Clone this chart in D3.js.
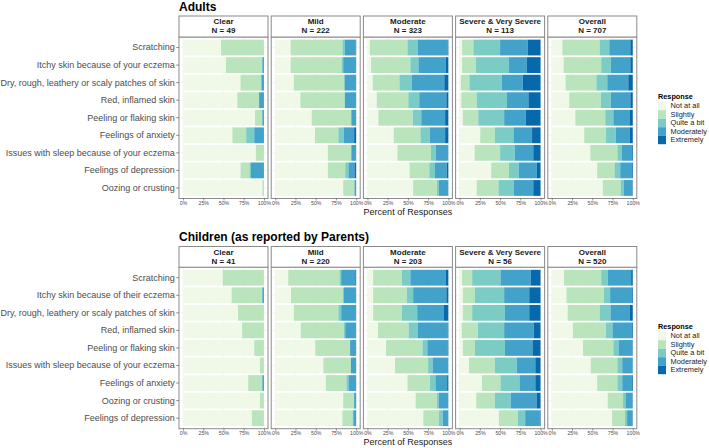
<!DOCTYPE html>
<html><head><meta charset="utf-8">
<script src="https://cdn.jsdelivr.net/npm/d3@7"></script>
<style>
body{margin:0;background:#fff;}
svg{display:block;font-family:"Liberation Sans",Arial,Helvetica,sans-serif;}
</style></head>
<body><svg id="c" width="709" height="448"></svg>
<script>
const responses = ["Not at all","Slightly","Quite a bit","Moderately","Extremely"];
const colors = ["#f0f9e8","#bae4bc","#7bccc4","#43a2ca","#0868ac"];
const severities = ["Clear","Mild","Moderate","Severe & Very Severe","Overall"];
const xTicks = [0,0.25,0.5,0.75,1];

const adultN = [49,222,323,113,707];
const childN = [41,220,203,56,520];

const adultItems = ["Scratching","Itchy skin because of your eczema","Dry, rough, leathery or scaly patches of skin","Red, inflamed skin","Peeling or flaking skin","Feelings of anxiety","Issues with sleep because of your eczema","Feelings of depression","Oozing or crusting"];
const childItems = ["Scratching","Itchy skin because of their eczema","Dry, rough, leathery or scaly patches of skin","Red, inflamed skin","Peeling or flaking skin","Issues with sleep because of your eczema","Feelings of anxiety","Oozing or crusting","Feelings of depression"];

// percentages per item: [Not at all, Slightly, Quite a bit, Moderately, Extremely]
const adultClear = [[47,53,0,0,0],[53,45,0,2,0],[71,25,1,3,0],[67,27,0,6,0],[89,9,0,2,0],[61,17,10,12,0],[90,10,0,0,0],[71,11,2,16,0],[98,2,0,0,0]];
const adultMild = [[19,64,3,13.5,0.5],[19,63,2,16,0],[23,62,1,14,0],[31,55,0,14,0],[45,49,0,6,0],[49,29,6.5,13,2.5],[65,29,0,6,0],[65,21.5,4,7.5,2],[84,14,0,2,0]];
const adultModerate = [[3,46.5,12.5,37,1],[4.5,48.5,10,34,3],[6.5,33,15.5,40,5],[11.5,39,13.5,33.5,2.5],[13.5,42.5,10.5,29.5,4],[32.5,33,11.5,19,4],[37,41.5,6,15.5,0],[52,24.5,7,14.5,2],[56.5,29.5,2,12,0]];
const adultSevere = [[3,14,33,34,16],[3,17,40.5,22.5,17],[1.5,10.5,40,26,22],[2,19,37.5,26.5,15],[4,19,32,26.5,18.5],[25.5,18,23,23,10.5],[18.5,31.5,18,23,9],[39,22,12,22.5,4.5],[21,27,19,24,9]];
const adultOverall = [[13,46,12,26,3],[14.5,46.5,12,24,3],[17,38,13.5,26,5.5],[21.5,39,12.5,24,3],[29,37,10,20,4],[40,27,12,17.5,3.5],[47.5,33.5,5.5,12.5,1],[56,21.5,7,14.5,1],[63,22,4,10.5,0.5]];

const childClear = [[49,51,0,0,0],[60,38,0,2,0],[68,32,0,0,0],[73,27,0,0,0],[88,12,0,0,0],[95,5,0,0,0],[80.5,17.5,0,2,0],[95,5,0,0,0],[85,15,0,0,0]];
const childMild = [[16,63.5,2,17.5,1],[19.5,64,1.5,15,0],[23,55,3.5,18.5,0],[31.5,53.5,1.5,13.5,0],[49.5,43,0,7.5,0],[59.5,34,0,6.5,0],[62.5,25.5,2.5,9.5,0],[84,13.5,0,2.5,0],[83,12.5,1,3.5,0]];
const childModerate = [[7,35.5,10.5,44,3],[7,41.5,8,41,2.5],[7,35.5,19,32.5,6],[13,38,11.5,36.5,1],[23,45,6,25,1],[34,41,5.5,19.5,0],[49.5,27.5,7,14.5,1.5],[59.5,26.5,2,12,0],[69,19.5,4.5,7,0]];
const childSevere = [[3,12.5,35,37.5,12],[4,15,36,31,14],[4,11.5,40.5,30,14],[2.5,20,32.5,36.5,8.5],[4,15,37,34,10],[11.5,32,27,23,6.5],[27.5,23,23.5,19.5,6.5],[20.5,23,19.5,32,5],[48.5,23.5,9,18,1]];
const childOverall = [[15,46,8,29,2],[18,46.5,7.5,26.5,1.5],[19.5,39.5,13.5,24,3.5],[26,41,8,24,1],[38.5,37.5,6.5,17,0.5],[48,33,6,13,0],[56,25,6,11.5,1.5],[69,19,3,9,0],[74.5,16,2.5,7,0]];

const svg = d3.select("#c");
const panelX0 = 179, panelW = 89, panelStep = 92.2;
const gray30 = "#4d4d4d";

function drawSection(cfg){
  const {title, titleY, stripTop, bodyTop, bodyBottom, items, ns, data, legendTop} = cfg;
  svg.append("text").attr("x",panelX0).attr("y",titleY).attr("font-size",12).attr("font-weight","bold")
    .attr("fill","#000").attr("dominant-baseline","middle").text(title);

  const y = d3.scaleBand().domain(items).range([bodyTop, bodyBottom]).paddingInner(0.1).paddingOuter(0.15);

  // y axis
  const ya = svg.append("g").attr("transform",`translate(${panelX0},0)`)
    .call(d3.axisLeft(y).tickSize(2.7).tickPadding(1.5));
  ya.select(".domain").remove();
  ya.selectAll(".tick line").attr("stroke","#333").attr("stroke-width",0.6);
  ya.selectAll(".tick text").attr("font-size",9).attr("fill",gray30).attr("font-family","Liberation Sans, Arial, sans-serif");

  severities.forEach((sev,si)=>{
    const x0 = panelX0 + si*panelStep;
    const x = d3.scaleLinear().domain([-0.05,1.05]).range([x0, x0+panelW]);
    const g = svg.append("g");
    g.append("rect").attr("x",x0).attr("y",bodyTop).attr("width",panelW).attr("height",bodyBottom-bodyTop).attr("fill","#fff");
    g.selectAll("line.vg").data(xTicks).join("line").attr("x1",d=>x(d)).attr("x2",d=>x(d))
      .attr("y1",bodyTop).attr("y2",bodyBottom).attr("stroke","#ebebeb").attr("stroke-width",0.5);
    g.selectAll("line.hg").data(items).join("line").attr("x1",x0).attr("x2",x0+panelW)
      .attr("y1",d=>y(d)+y.bandwidth()/2).attr("y2",d=>y(d)+y.bandwidth()/2).attr("stroke","#ebebeb").attr("stroke-width",0.5);
    const rows = data[si];
    rows.forEach((vals,ri)=>{
      const total = d3.sum(vals);
      let cum = 0;
      vals.forEach((v,k)=>{
        const a = cum/total, b = (cum+v)/total;
        cum += v;
        if(v<=0) return;
        g.append("rect").attr("x",x(a)).attr("width",x(b)-x(a))
          .attr("y",y(items[ri])).attr("height",y.bandwidth()).attr("fill",colors[k]);
      });
    });
    g.append("rect").attr("x",x0).attr("y",bodyTop).attr("width",panelW).attr("height",bodyBottom-bodyTop)
      .attr("fill","none").attr("stroke","#8a8a8a").attr("stroke-width",1);
    g.append("rect").attr("x",x0).attr("y",stripTop).attr("width",panelW).attr("height",bodyTop-stripTop)
      .attr("fill","#fff").attr("stroke","#8a8a8a").attr("stroke-width",1);
    const cx = x0+panelW/2, sh = bodyTop-stripTop;
    g.append("text").attr("x",cx).attr("y",stripTop+sh*0.3).attr("text-anchor","middle").attr("dominant-baseline","middle")
      .attr("font-size",8).attr("font-weight","bold").attr("fill","#1a1a1a").text(sev);
    g.append("text").attr("x",cx).attr("y",stripTop+sh*0.72).attr("text-anchor","middle").attr("dominant-baseline","middle")
      .attr("font-size",8).attr("font-weight","bold").attr("fill","#1a1a1a").text("N = "+ns[si]);
    const xa = svg.append("g").attr("transform",`translate(0,${bodyBottom})`)
      .call(d3.axisBottom(x).tickValues(xTicks).tickFormat(d3.format(".0%")).tickSize(2).tickPadding(1));
    xa.select(".domain").remove();
    xa.selectAll(".tick line").attr("stroke","#333").attr("stroke-width",0.5);
    xa.selectAll(".tick text").attr("font-size",5.2).attr("fill",gray30).attr("font-family","Liberation Sans, Arial, sans-serif");
  });

  svg.append("text").attr("x",panelX0 + (4*panelStep+panelW)/2).attr("y",bodyBottom+14)
    .attr("text-anchor","middle").attr("dominant-baseline","middle").attr("font-size",9).attr("fill","#1a1a1a")
    .text("Percent of Responses");

  const lx = 658, keyH = 8.5;
  svg.append("text").attr("x",lx).attr("y",legendTop-4.5).attr("dominant-baseline","middle")
    .attr("font-size",7.3).attr("font-weight","bold").attr("fill","#000").text("Response");
  responses.forEach((r,k)=>{
    svg.append("rect").attr("x",lx).attr("y",legendTop+k*keyH).attr("width",8).attr("height",keyH).attr("fill",colors[k]);
    svg.append("text").attr("x",lx+12.5).attr("y",legendTop+k*keyH+keyH/2+0.3).attr("dominant-baseline","middle")
      .attr("font-size",7.4).attr("fill","#1a1a1a").text(r);
  });
}

drawSection({title:"Adults", titleY:7.5, stripTop:16, bodyTop:37, bodyBottom:198.5,
  items:adultItems, ns:adultN, data:[adultClear,adultMild,adultModerate,adultSevere,adultOverall], legendTop:101.7});
drawSection({title:"Children (as reported by Parents)", titleY:237.5, stripTop:246.5, bodyTop:267.2, bodyBottom:428.7,
  items:childItems, ns:childN, data:[childClear,childMild,childModerate,childSevere,childOverall], legendTop:331.7});
</script></body></html>
